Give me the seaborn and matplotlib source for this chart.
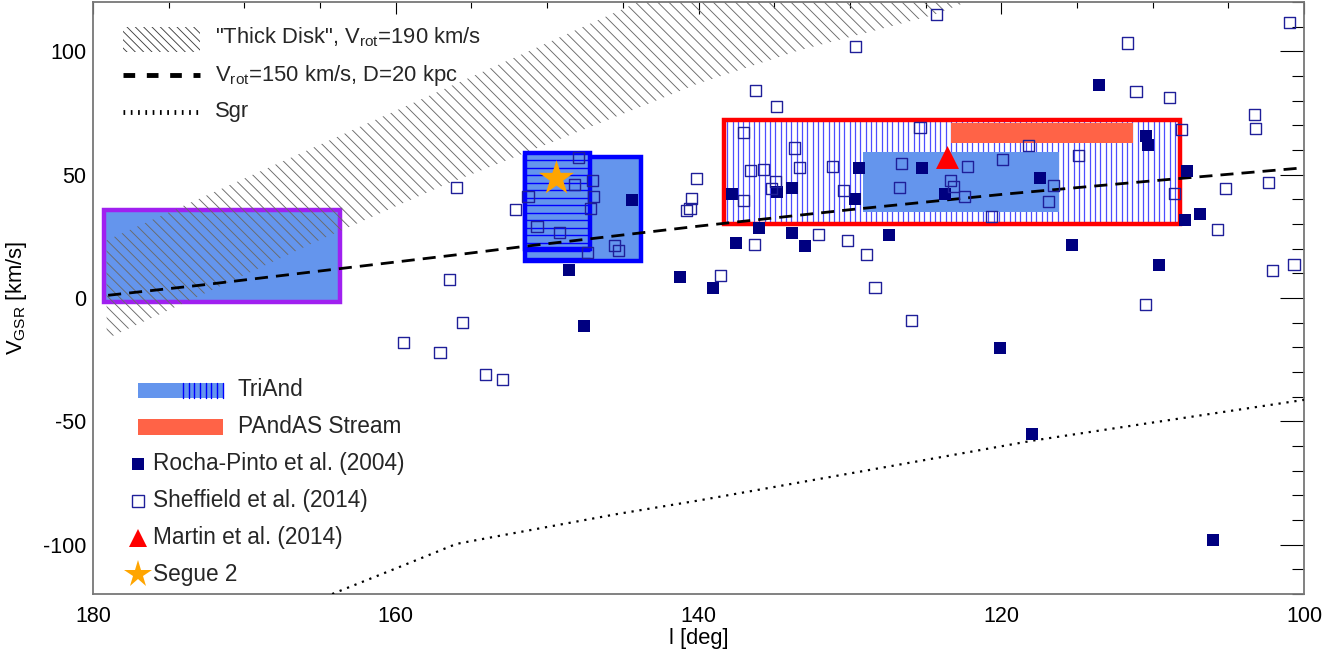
import numpy as np
import matplotlib
matplotlib.use("Agg")
import matplotlib.pyplot as plt
import seaborn as sns
from matplotlib.patches import Rectangle
from matplotlib.lines import Line2D
from matplotlib.ticker import MultipleLocator, FixedLocator

# ---------------- data ----------------
rocha_l = [148.55, 147.56, 144.4, 141.22, 137.8, 136.0, 137.5, 139.06, 134.8, 133.8,
           133.8, 132.96, 129.4, 129.66, 127.4, 125.24, 123.72, 113.54, 117.44, 110.44,
           110.3, 107.75, 107.86, 106.87, 115.33, 109.58, 120.08, 117.97, 106.01]
rocha_v = [11.4, -11.4, 39.7, 8.5, 42.2, 28.4, 22.3, 4.1, 43.0, 44.6,
           26.4, 21.0, 52.8, 40.1, 25.4, 52.8, 42.2, 86.3, 48.6, 65.6,
           62.0, 51.5, 31.5, 34.1, 21.4, 13.3, -20.4, -55.0, -98.3]

sheff_l = [155.98, 152.08, 151.26, 147.94, 148.2, 147.01, 146.95, 147.12, 150.67, 149.2,
           147.35, 145.56, 145.3, 156.42, 155.58, 159.5, 157.08, 154.1, 152.96, 140.12,
           140.45, 140.56, 140.8, 129.6, 136.25, 134.86, 138.56, 136.31, 132.08, 130.14,
           128.93, 128.34, 137.0, 133.67, 136.58, 135.72, 133.3, 131.16, 134.93, 135.19,
           137.04, 130.43, 125.37, 126.6, 126.75, 123.34, 123.17, 122.22, 122.4, 119.91,
           120.64, 100.95, 111.67, 111.1, 108.88, 103.28, 103.22, 108.08, 118.21, 114.91,
           116.54, 116.9, 108.57, 105.18, 102.36, 105.73, 102.07, 100.66, 110.5, 124.27,
           125.9]
sheff_v = [44.8, 36.0, 41.3, 57.0, 46.0, 47.8, 41.0, 36.3, 29.0, 26.5,
           18.4, 21.4, 19.4, 7.5, -9.9, -17.9, -22.0, -31.1, -33.0, 48.5,
           40.3, 36.3, 35.3, 102.1, 84.2, 77.5, 9.1, 21.7, 25.7, 23.4,
           17.7, 4.2, 67.1, 60.8, 51.8, 52.1, 52.8, 53.2, 47.4, 44.4,
           39.7, 43.7, 69.2, 54.5, 44.8, 47.8, 45.1, 53.2, 41.0, 56.3,
           32.9, 111.6, 103.4, 83.8, 81.2, 74.4, 68.7, 68.2, 61.9, 57.6,
           45.5, 39.1, 42.4, 44.5, 46.8, 27.9, 11.1, 13.6, -2.7, 115.1,
           -9.1]

martin_l = [123.56]
martin_v = [57.0]
segue_l = [149.41]
segue_v = [48.5]

# thick disk band (V_rot = 190 km/s)
disk_l = [179.1, 173.8, 165.0, 157.1, 150.0, 143.5, 140.0, 133.3, 128.0, 124.5, 122.3, 120.0]
disk_lo = [-16.5, -1.5, 23.6, 45.0, 62.4, 78.3, 87.0, 100.5, 109.0, 114.7, 120.0, 124.0]
disk_hi = [23.4, 38.0, 62.2, 83.9, 103.4, 121.3, 131.0, 140.0, 148.0, 152.0, 155.0, 158.0]

# V_rot = 150 km/s, D = 20 kpc
dash_l = [179.0, 172.9, 163.7, 156.0, 151.4, 148.0, 139.9, 130.0, 119.8, 110.0, 100.0]
dash_v = [1.1, 5.2, 11.9, 17.5, 21.0, 23.4, 29.2, 35.8, 42.1, 47.5, 52.8]

# Sgr
sgr_l = [164.2, 159.9, 156.0, 152.7, 145.3, 140.0, 127.6, 117.9, 110.0, 100.0]
sgr_v = [-120.0, -109.4, -99.7, -95.9, -87.5, -82.1, -68.5, -57.8, -50.5, -41.3]

# boxes: (l_min, l_max, v_min, v_max)
purple_box = (163.7, 179.3, -1.6, 35.6)
blue_box = (143.8, 151.48, 15.2, 57.2)
hstripe_box = (147.17, 151.48, 19.9, 58.9)
red_box = (108.19, 138.3, 30.0, 72.0)
inner_box = (116.17, 129.16, 34.9, 59.3)
pandas_box = (111.32, 123.32, 62.9, 71.0)

x_ticks = [180, 160, 140, 120, 100]
y_ticks = [-100, -50, 0, 50, 100]

# ---------------- style ----------------
sns.set_theme(style="white")
plt.rcParams["font.family"] = ["Liberation Sans", "DejaVu Sans"]
plt.rcParams["mathtext.fontset"] = "custom"
plt.rcParams["mathtext.rm"] = "Liberation Sans"
plt.rcParams["mathtext.it"] = "Liberation Sans:italic"
plt.rcParams["hatch.linewidth"] = 0.65

CORN = "#6495ED"
NAVY = "#000080"
BLUE = "#0000FF"
RED = "#FF0000"
PURPLE = "#A020F0"
TOMATO = "#FF6347"
ORANGE = "#FFA500"

W, H = 1341, 655
fig = plt.figure(figsize=(W / 100, H / 100), dpi=100)
ax = fig.add_axes([93 / W, 1 - 594 / H, (1304 - 93) / W, (594 - 2) / H])


def rect(box, **kw):
    l0, l1, v0, v1 = box
    r = Rectangle((l0, v0), l1 - l0, v1 - v0, **kw)
    ax.add_patch(r)
    return r


# purple box (under the hatch)
rect(purple_box, facecolor=CORN, edgecolor=PURPLE, linewidth=3.2, zorder=1)

# thick disk hatch
ax.fill_between(disk_l, disk_lo, disk_hi, facecolor="none", edgecolor="#6a6a6a",
                hatch="\\\\\\", linewidth=0, zorder=2)

# blue boxes
rect(blue_box, facecolor=CORN, edgecolor=BLUE, linewidth=3.2, zorder=3)
l0, l1, v0, v1 = hstripe_box
rect(hstripe_box, facecolor=CORN, edgecolor="none", linewidth=0, zorder=3.1)
ax.hlines(np.arange(blue_box[2] + 1.0, v1, 3.05), l0, l1, color=BLUE,
          linewidth=1.0, zorder=3.2)
rect(hstripe_box, facecolor="none", edgecolor=BLUE, linewidth=3.2, zorder=3.3)

# red box with vertical stripes
l0, l1, v0, v1 = red_box
ax.vlines(np.arange(l1 - 0.2, l0, -0.352), v0, v1, color=(0.3, 0.3, 1.0),
          linewidth=0.9, zorder=3)
rect(inner_box, facecolor=CORN, edgecolor="none", linewidth=0, zorder=3.2)
rect(pandas_box, facecolor=TOMATO, edgecolor="none", linewidth=0, zorder=3.2)
rect(red_box, facecolor="none", edgecolor=RED, linewidth=3.2, zorder=3.4)

# lines
sns.lineplot(x=dash_l, y=dash_v, ax=ax, color="black", linewidth=2.0,
             linestyle=(0, (4.7, 2.9)), sort=False, estimator=None, zorder=4)
sns.lineplot(x=sgr_l, y=sgr_v, ax=ax, color="black", linewidth=1.6,
             linestyle=(0, (1.0, 2.6)), sort=False, estimator=None, zorder=4)

# points
sns.scatterplot(x=rocha_l, y=rocha_v, ax=ax, marker="s", s=76, color=NAVY,
                linewidth=0, zorder=6)
sns.scatterplot(x=sheff_l, y=sheff_v, ax=ax, marker="s", s=64, color=NAVY,
                linewidth=1.0, zorder=6)
coll = ax.collections[-1]
coll.set_facecolor("none")
coll.set_edgecolor((0.12, 0.12, 0.6))
sns.scatterplot(x=martin_l, y=martin_v, ax=ax, marker="^", s=272, color=RED,
                linewidth=0, zorder=7)
sns.scatterplot(x=segue_l, y=segue_v, ax=ax, marker="*", s=700, color=ORANGE,
                linewidth=0, zorder=7)

# axes
ax.set_xlim(180, 100)
ax.set_ylim(-120, 120)
ax.xaxis.set_major_locator(FixedLocator(x_ticks))
ax.yaxis.set_major_locator(FixedLocator(y_ticks))
ax.xaxis.set_minor_locator(MultipleLocator(5))
ax.yaxis.set_minor_locator(MultipleLocator(10))
ax.set_xticklabels([str(t) for t in x_ticks])
ax.set_yticklabels([str(t) for t in y_ticks])
ax.tick_params(which="both", direction="in", top=True, right=True,
               colors="black", labelcolor="black", labelsize=15.5)
ax.tick_params(axis="x", which="major", length=8.6, width=0.8, pad=8.6)
ax.tick_params(axis="x", which="minor", length=4.3, width=0.8)
ax.tick_params(axis="y", which="major", length=17, width=0.8, pad=5)
ax.tick_params(axis="y", which="minor", length=8.6, width=0.8)
for sp in ax.spines.values():
    sp.set_color("#777777")
    sp.set_linewidth(1.3)
ax.set_xlabel("l [deg]", fontsize=15.8, color="black")
ax.set_ylabel(r"V$_{\mathrm{GSR}}$ [km/s]", fontsize=15.8, color="black")
ax.xaxis.set_label_coords(0.5, -0.058)
ax.yaxis.set_label_coords(-0.053, 0.5)
ax.grid(False)

# ---------------- legends (figure pixel layout) ----------------
def fx(px):
    return px / W


def fy(py):
    return 1 - py / H


tf = fig.transFigure
# upper legend
fig.add_artist(Rectangle((fx(123), fy(52)), fx(200) - fx(123), fy(27) - fy(52),
                         transform=tf, facecolor="none", edgecolor="#404040",
                         hatch="\\\\\\\\", linewidth=0))
fig.add_artist(Line2D([fx(123), fx(200)], [fy(75), fy(75)], transform=tf,
                      color="black", linewidth=3.5, linestyle=(0, (2.4, 2.4))))
fig.add_artist(Line2D([fx(123), fx(200)], [fy(112), fy(112)], transform=tf,
                      color="black", linewidth=3.5, linestyle=(0, (0.35, 1.15))))
fs1 = 15.8
fig.text(fx(215), fy(43.5), "\"Thick Disk\", V$_{\\mathrm{rot}}$=190 km/s",
         fontsize=fs1, va="baseline", ha="left")
fig.text(fx(215), fy(81), "V$_{\\mathrm{rot}}$=150 km/s, D=20 kpc",
         fontsize=fs1, va="baseline", ha="left")
fig.text(fx(215), fy(117.5), "Sgr", fontsize=fs1, va="baseline", ha="left")

# lower legend
fs2 = 16.3
fig.add_artist(Rectangle((fx(138), fy(398)), fx(223) - fx(138), fy(383) - fy(398),
                         transform=tf, facecolor=CORN, edgecolor="none", linewidth=0))
for px in np.arange(183, 223, 5.7):
    fig.add_artist(Line2D([fx(px), fx(px)], [fy(398), fy(383)], transform=tf,
                          color=BLUE, linewidth=1.0))
fig.add_artist(Rectangle((fx(138), fy(435)), fx(223) - fx(138), fy(419) - fy(435),
                         transform=tf, facecolor=TOMATO, edgecolor="none", linewidth=0))
fig.text(fx(238), fy(396), "TriAnd", fontsize=fs2, va="baseline", ha="left")
fig.text(fx(238), fy(433.3), "PAndAS Stream", fontsize=fs2, va="baseline", ha="left")

fig.add_artist(Line2D([fx(137.5)], [fy(464)], transform=tf, marker="s",
                      markersize=8.6, color=NAVY, linestyle="none", markeredgewidth=0))
fig.add_artist(Line2D([fx(137.5)], [fy(501)], transform=tf, marker="s",
                      markersize=8.0, markerfacecolor="none",
                      markeredgecolor=(0.12, 0.12, 0.6), markeredgewidth=1.0,
                      linestyle="none"))
fig.add_artist(Line2D([fx(137.5)], [fy(538)], transform=tf, marker="^",
                      markersize=12.5, color=RED, linestyle="none", markeredgewidth=0))
fig.add_artist(Line2D([fx(137.5)], [fy(574)], transform=tf, marker="*",
                      markersize=20.5, color=ORANGE, linestyle="none", markeredgewidth=0))
fig.text(fx(153), fy(470), "Rocha-Pinto et al. (2004)", fontsize=fs2, va="baseline")
fig.text(fx(153), fy(507.3), "Sheffield et al. (2014)", fontsize=fs2, va="baseline")
fig.text(fx(153), fy(544), "Martin et al. (2014)", fontsize=fs2, va="baseline")
fig.text(fx(153), fy(580.7), "Segue 2", fontsize=fs2, va="baseline")

fig.savefig("out.png", dpi=100, facecolor="white")
